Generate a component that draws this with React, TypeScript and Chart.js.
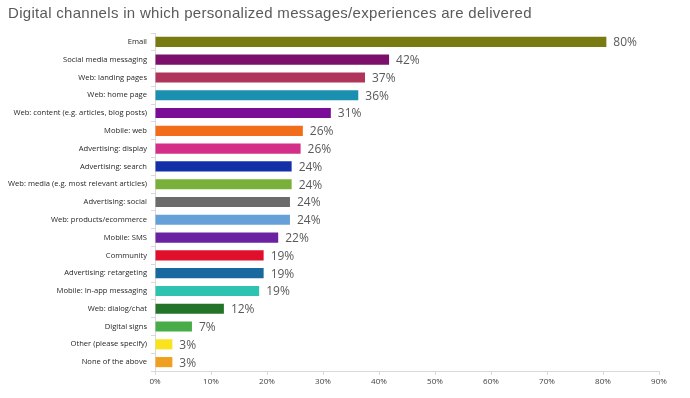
import React, { useEffect, useRef } from "react";
import { Chart, registerables } from "chart.js";

Chart.register(...registerables);

const TITLE = "Digital channels in which personalized messages/experiences are delivered";

const categories = [
  "Email",
  "Social media messaging",
  "Web: landing pages",
  "Web: home page",
  "Web: content (e.g. articles, blog posts)",
  "Mobile: web",
  "Advertising: display",
  "Advertising: search",
  "Web: media (e.g. most relevant articles)",
  "Advertising: social",
  "Web: products/ecommerce",
  "Mobile: SMS",
  "Community",
  "Advertising: retargeting",
  "Mobile: In-app messaging",
  "Web: dialog/chat",
  "Digital signs",
  "Other (please specify)",
  "None of the above",
];

const values = [80.6, 41.8, 37.5, 36.3, 31.4, 26.4, 26.0, 24.4, 24.4, 24.1, 24.1, 22.0, 19.4, 19.4, 18.6, 12.3, 6.6, 3.1, 3.1];

const valueLabels = ["80%", "42%", "37%", "36%", "31%", "26%", "26%", "24%", "24%", "24%", "24%", "22%", "19%", "19%", "19%", "12%", "7%", "3%", "3%"];

const barColors = [
  "#7a7a12",
  "#7c0f6c",
  "#b0355a",
  "#1b8fb0",
  "#7a0c98",
  "#f26d1a",
  "#d42f88",
  "#1430a8",
  "#78b03a",
  "#6b6b6b",
  "#66a0d8",
  "#6a22a2",
  "#e0102c",
  "#1a68a0",
  "#2ec2b0",
  "#237428",
  "#48ac48",
  "#fae21e",
  "#f0a020",
];

const xTicks = [0, 10, 20, 30, 40, 50, 60, 70, 80, 90];

export default function App() {
  const ref = useRef<HTMLCanvasElement | null>(null);

  useEffect(() => {
    document.body.style.margin = "0";
    const canvas = ref.current;
    if (!canvas) return;

    const titlePlugin = {
      id: "titleText",
      afterDraw(chart: any) {
        const ctx = chart.ctx;
        ctx.save();
        ctx.font = "15px 'Liberation Sans', Arial, sans-serif";
        ctx.fillStyle = "#5a5a5a";
        ctx.textAlign = "left";
        ctx.textBaseline = "middle";
        try {
          (ctx as any).letterSpacing = "0.3px";
        } catch (e) {}
        ctx.fillText(TITLE, 8, 14);
        ctx.restore();
      },
    };

    const labelPlugin = {
      id: "valueLabels",
      afterDatasetsDraw(chart: any) {
        const ctx = chart.ctx;
        const meta = chart.getDatasetMeta(0);
        ctx.save();
        ctx.font = "12px 'Open Sans', sans-serif";
        ctx.fillStyle = "#595959";
        ctx.textAlign = "left";
        ctx.textBaseline = "middle";
        meta.data.forEach((bar: any, i: number) => {
          ctx.fillText(valueLabels[i], bar.x + 7, bar.y + 1);
        });
        ctx.restore();
      },
    };

    const chart = new Chart(canvas, {
      type: "bar",
      data: {
        labels: categories,
        datasets: [
          {
            data: values,
            backgroundColor: barColors,
            borderWidth: 0,
            barPercentage: 0.57,
            categoryPercentage: 1,
          },
        ],
      },
      options: {
        indexAxis: "y",
        animation: false,
        responsive: false,
        maintainAspectRatio: false,
        layout: { padding: { top: 33, right: 31, bottom: 0, left: 0 } },
        plugins: {
          legend: { display: false },
          tooltip: { enabled: false },
          title: { display: false },
        },
        scales: {
          x: {
            min: 0,
            max: 90,
            afterBuildTicks(scale: any) {
              scale.ticks = xTicks.map((v) => ({ value: v }));
            },
            afterFit(scale: any) {
              scale.height = 27;
            },
            grid: {
              drawOnChartArea: false,
              drawTicks: true,
              tickLength: 4,
              color: "#d9d9d9",
            },
            border: { color: "#d9d9d9" },
            ticks: {
              callback: (v: any) => v + "%",
              font: { family: "'Open Sans', sans-serif", size: 8 },
              color: "#404040",
              padding: 2,
              maxRotation: 0,
            },
          },
          y: {
            afterFit(scale: any) {
              scale.width = 155;
            },
            grid: {
              drawOnChartArea: false,
              drawTicks: true,
              tickLength: 4,
              color: "#d9d9d9",
              offset: true,
            },
            border: { color: "#d9d9d9" },
            ticks: {
              font: { family: "'Open Sans', sans-serif", size: 7.6 },
              color: "#262626",
              padding: 4,
              autoSkip: false,
            },
          },
        },
      },
      plugins: [titlePlugin, labelPlugin],
    } as any);

    return () => chart.destroy();
  }, []);

  return (
    <div style={{ width: 690, height: 398, background: "#ffffff" }}>
      <canvas ref={ref} width={690} height={398} style={{ display: "block" }} />
    </div>
  );
}
